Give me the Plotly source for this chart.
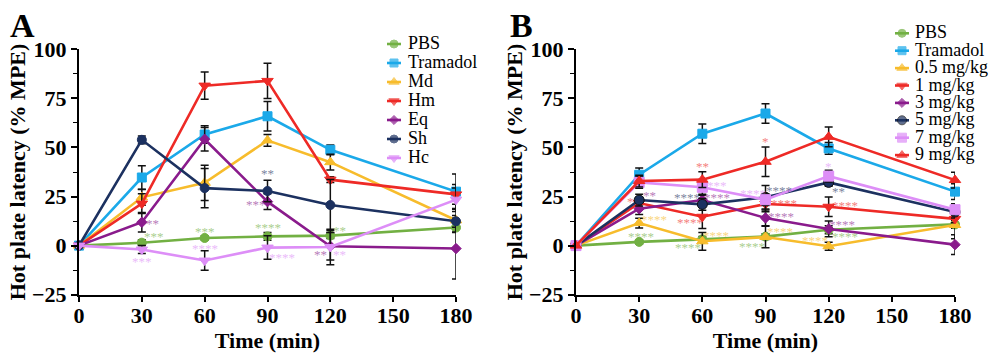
import plotly.graph_objects as go

# ---------------- data ----------------
time_points = [0, 30, 60, 90, 120, 180]
x_ticks = [0, 30, 60, 90, 120, 150, 180]
y_ticks = [-25, 0, 25, 50, 75, 100]

# Panel A
a_names = ["PBS", "Tramadol", "Md", "Hm", "Eq", "Sh", "Hc"]
a_pbs = [0, 1.5, 3.9, 4.7, 5.1, 9.2]
a_pbs_err = [0, 1.5, 1.0, 2.0, 1.5, 2.5]
a_tramadol = [0, 34.7, 56.6, 65.9, 48.8, 27.5]
a_tramadol_err = [0, 6, 4.5, 7.5, 2.5, 9]
a_md = [0, 24.6, 32.0, 53.6, 42.5, 12.9]
a_md_err = [0, 4, 9, 3, 4, 6]
a_hm = [0, 21.4, 81.5, 83.9, 33.6, 26.1]
a_hm_err = [0, 5, 7, 9, 1.5, 5]
a_eq = [0, 11.9, 54.2, 22.4, -0.3, -1.5]
a_eq_err = [0, 5, 6, 4, 7, 15.5]
a_sh = [0, 53.9, 29.3, 27.8, 20.7, 12.4]
a_sh_err = [0, 2, 10, 5.5, 13, 3]
a_hc = [0, -2.0, -7.6, -1.0, -0.7, 23.4]
a_hc_err = [0, 2, 5, 6, 9, 6]

# Panel B
b_names = ["PBS", "Tramadol", "0.5 mg/kg", "1 mg/kg", "3 mg/kg", "5 mg/kg", "7 mg/kg", "9 mg/kg"]
b_pbs = [0, 1.9, 3.2, 4.6, 8.1, 10.8]
b_pbs_err = [0, 1, 1.5, 1.5, 2, 2]
b_tramadol = [0, 36.1, 57.0, 67.3, 49.5, 27.5]
b_tramadol_err = [0, 3.5, 5, 5, 3, 4]
b_d05 = [0, 11.5, 2.2, 4.4, -0.3, 10.5]
b_d05_err = [0, 2.5, 4.5, 5.5, 2, 7]
b_d1 = [0, 21.7, 14.7, 21.2, 19.8, 13.6]
b_d1_err = [0, 3, 6, 4, 5, 2]
b_d3 = [0, 18.8, 23.2, 14.1, 8.5, 0.5]
b_d3_err = [0, 3, 3, 4, 4, 5]
b_d5 = [0, 23.2, 21.0, 24.6, 32.2, 17.1]
b_d5_err = [0, 3, 3, 6, 2, 3]
b_d7 = [0, 32.2, 29.7, 23.4, 35.4, 18.3]
b_d7_err = [0, 3, 4, 3, 3, 3]
b_d9 = [0, 32.9, 33.6, 42.7, 55.4, 33.4]
b_d9_err = [0, 3, 4, 7.5, 5, 4]

# significance marks: (series, time, value, text)
a_sig = [
    ("Eq", 35, 12.5, "**"), ("PBS", 36, 5.6, "***"), ("PBS", 60, 8.2, "***"),
    ("PBS", 90, 10.2, "****"), ("PBS", 124.5, 8.7, "**"), ("Hc", 30, -7.1, "***"),
    ("Hc", 60, -0.3, "****"), ("Hc", 97, -4.9, "****"), ("Hc", 124.5, -3.6, "**"),
    ("Eq", 115.5, -3.4, "**"), ("Eq", 84.4, 21.9, "***"), ("Sh", 90, 37.7, "**"),
]
b_sig = [
    ("9 mg/kg", 60, 41.2, "**"), ("9 mg/kg", 90, 53.9, "*"), ("7 mg/kg", 120, 41.2, "*"),
    ("7 mg/kg", 66.8, 31.5, "***"), ("3 mg/kg", 34.8, 26.3, "**"), ("1 mg/kg", 26.1, 23.4, "*"),
    ("5 mg/kg", 52.6, 25.6, "****"), ("3 mg/kg", 66.8, 25.6, "****"), ("7 mg/kg", 83.9, 27.5, "****"),
    ("5 mg/kg", 96.6, 29.3, "****"), ("5 mg/kg", 124.5, 28.5, "**"), ("1 mg/kg", 99, 22.5, "****"),
    ("1 mg/kg", 127.6, 21.7, "****"), ("1 mg/kg", 54, 12.7, "****"), ("0.5 mg/kg", 37.2, 14.1, "****"),
    ("3 mg/kg", 97.5, 15.8, "****"), ("3 mg/kg", 126.5, 12.0, "****"), ("PBS", 30.9, 5.8, "****"),
    ("0.5 mg/kg", 66.7, 6.4, "****"), ("0.5 mg/kg", 96.8, 8.1, "****"), ("PBS", 127.6, 5.6, "****"),
    ("0.5 mg/kg", 113.4, 3.4, "****"), ("PBS", 53.2, 0.0, "****"), ("PBS", 83.4, 0.8, "****"),
]

# ---------------- styles ----------------
GREEN, BLUE, GOLD, RED = "#72B043", "#1BA9E9", "#F7BC2C", "#EE2A26"
PURPLE, NAVY, LILAC = "#8A1B8C", "#1C3160", "#DD8EF7"

a_style = {
    "PBS": (GREEN, "circle", 9), "Tramadol": (BLUE, "square", 9), "Md": (GOLD, "triangle-up", 10),
    "Hm": (RED, "triangle-down", 10), "Eq": (PURPLE, "diamond", 8), "Sh": (NAVY, "circle", 9),
    "Hc": (LILAC, "triangle-down", 10),
}
b_style = {
    "PBS": (GREEN, "circle", 9), "Tramadol": (BLUE, "square", 9), "0.5 mg/kg": (GOLD, "triangle-up", 10),
    "1 mg/kg": (RED, "triangle-down", 10), "3 mg/kg": (PURPLE, "diamond", 8), "5 mg/kg": (NAVY, "circle", 10),
    "7 mg/kg": (LILAC, "square", 10), "9 mg/kg": (RED, "triangle-up", 10),
}

a_series = [a_pbs, a_tramadol, a_md, a_hm, a_eq, a_sh, a_hc]
a_errs = [a_pbs_err, a_tramadol_err, a_md_err, a_hm_err, a_eq_err, a_sh_err, a_hc_err]
b_series = [b_pbs, b_tramadol, b_d05, b_d1, b_d3, b_d5, b_d7, b_d9]
b_errs = [b_pbs_err, b_tramadol_err, b_d05_err, b_d1_err, b_d3_err, b_d5_err, b_d7_err, b_d9_err]

SERIF = "Liberation Serif, Times New Roman, Times, serif"
W, H = 992, 356
fig = go.Figure()


def outline(name, color):
    return "#111111" if name == "5 mg/kg" else color


def add_panel(names, series, errs, style, xa, ya):
    for name, ys, es in zip(names, series, errs):
        color, symbol, size = style[name]
        fig.add_trace(go.Scatter(
            x=time_points, y=ys, name=name, mode="lines+markers",
            xaxis=xa, yaxis=ya, showlegend=False, cliponaxis=False,
            line=dict(color=color, width=2.6),
            marker=dict(color=color, symbol=symbol, size=size,
                        line=dict(color=outline(name, color), width=1)),
            error_y=dict(type="data", array=es, color="#111111", thickness=1.5, width=4),
        ))


add_panel(a_names, a_series, a_errs, a_style, "x", "y")
add_panel(b_names, b_series, b_errs, b_style, "x2", "y2")

annotations = []
for sig, style, xr, yr in ((a_sig, a_style, "x", "y"), (b_sig, b_style, "x2", "y2")):
    for name, tx, ty, txt in sig:
        annotations.append(dict(
            x=tx, y=ty, xref=xr, yref=yr, text=txt, showarrow=False,
            font=dict(family=SERIF, size=13, color=style[name][0]), opacity=0.6,
            xanchor="center", yanchor="middle", yshift=-2,
        ))

# ---- custom legends (drawn on a hidden full-figure overlay, in pixel units) ----
def add_legend(names, style, x_marker, y_first, gap, x_text):
    for i, name in enumerate(names):
        color, symbol, size = style[name]
        yy = y_first + i * gap
        fig.add_trace(go.Scatter(
            x=[x_marker - 7, x_marker, x_marker + 7], y=[yy, yy, yy], mode="lines+markers",
            xaxis="x3", yaxis="y3", showlegend=False, hoverinfo="skip", cliponaxis=False,
            line=dict(color=color, width=2.6),
            marker=dict(color=color, symbol=symbol, size=[0, size - 1, 0],
                        line=dict(color=outline(name, color), width=1)),
        ))
        annotations.append(dict(
            x=x_text, y=yy, xref="x3", yref="y3", text=name, showarrow=False,
            xanchor="left", yanchor="middle", yshift=1,
            font=dict(family=SERIF, size=18, color="black"),
        ))


add_legend(a_names, a_style, 394, 44, 19.0, 406)
add_legend(b_names, b_style, 902, 33.3, 17.4, 913)

# panel letters
annotations.append(dict(x=8, y=5, xref="x3", yref="y3", text="A",
                        showarrow=False, xanchor="left", yanchor="top",
                        font=dict(family=SERIF, size=34, color="black", weight="bold")))
annotations.append(dict(x=508, y=5, xref="x3", yref="y3", text="B",
                        showarrow=False, xanchor="left", yanchor="top",
                        font=dict(family=SERIF, size=34, color="black", weight="bold")))

ytop = 1 - 49.3 / H
ybot = 1 - 294.7 / H

axis_font = dict(family=SERIF, size=22, color="black", weight="bold")
xcommon = dict(range=[0, 180], tickvals=x_ticks, ticks="outside", ticklen=5, tickwidth=1.5,
               tickcolor="black", showline=True, linecolor="black", linewidth=2,
               showgrid=False, zeroline=False, automargin=False, ticklabelstandoff=-5,
               tickfont=axis_font, title=dict(text="Time (min)", font=axis_font, standoff=3))
ycommon = dict(range=[-25, 100], tickvals=y_ticks, ticks="outside", ticklen=6, tickwidth=1.5,
               tickcolor="black", showline=True, linecolor="black", linewidth=2,
               showgrid=False, zeroline=False, automargin=False,
               tickfont=axis_font,
               minor=dict(dtick=12.5, tick0=0, ticks="outside", ticklen=4, tickwidth=1.2,
                          tickcolor="black", showgrid=False),
               title=dict(text="Hot plate latency (% MPE)", font=axis_font, standoff=0))

fig.update_layout(
    width=W, height=H, margin=dict(l=0, r=0, t=0, b=0),
    paper_bgcolor="white", plot_bgcolor="rgba(0,0,0,0)",
    xaxis=dict(xcommon, domain=[79 / W, 456 / W], anchor="y"),
    yaxis=dict(ycommon, domain=[ybot, ytop], anchor="x"),
    xaxis2=dict(xcommon, domain=[576 / W, 955 / W], anchor="y2"),
    yaxis2=dict(ycommon, domain=[ybot, ytop], anchor="x2"),
    xaxis3=dict(domain=[0, 1], range=[0, W], visible=False, fixedrange=True, anchor="y3"),
    yaxis3=dict(domain=[0, 1], range=[H, 0], visible=False, fixedrange=True, anchor="x3"),
    annotations=annotations,
    showlegend=False,
)

fig.write_html("out.html")
